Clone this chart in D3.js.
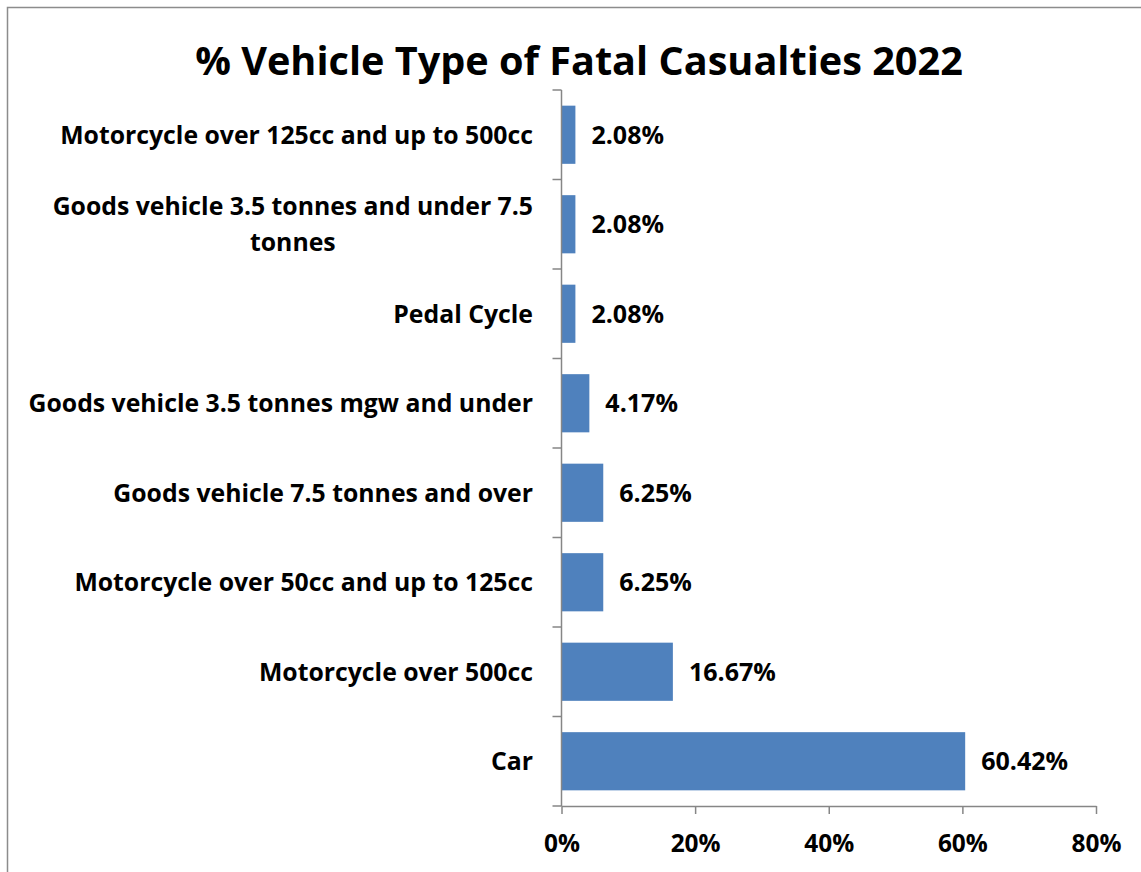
<!DOCTYPE html>
<html>
<head>
<meta charset="utf-8">
<script src="https://cdn.jsdelivr.net/npm/d3@7"></script>
<style>
  html, body { margin: 0; padding: 0; background: #fff; }
  svg { display: block; }
  text { font-family: "Open Sans", "Noto Sans", sans-serif; font-weight: 700; fill: #000; }
</style>
</head>
<body>
<svg id="chart" width="1141" height="872"></svg>
<script>
// ---- data ----
const title = "% Vehicle Type of Fatal Casualties 2022";
const categories = [
  "Motorcycle over 125cc and up to 500cc",
  "Goods vehicle 3.5 tonnes and under 7.5 tonnes",
  "Pedal Cycle",
  "Goods vehicle 3.5 tonnes mgw and under",
  "Goods vehicle 7.5 tonnes and over",
  "Motorcycle over 50cc and up to 125cc",
  "Motorcycle over 500cc",
  "Car"
];
const values = [2.08, 2.08, 2.08, 4.17, 6.25, 6.25, 16.67, 60.42];
const xTicks = [0, 20, 40, 60, 80];

// ---- setup ----
const svg = d3.select("#chart");
const W = 1141, H = 872;
const axisColor = "#868686";
const barColor = "#4F81BD";

// border
svg.append("rect")
  .attr("x", 7.5).attr("y", 7.5).attr("width", 1150).attr("height", 900)
  .attr("fill", "#fff").attr("stroke", "#8c8c8c").attr("stroke-width", 1.5);

// font fitting helper: find font-size so sample string has target width
function fitSize(sample, targetWidth) {
  const t = svg.append("text").style("font-size", "100px").text(sample);
  const w = t.node().getComputedTextLength();
  t.remove();
  return 100 * targetWidth / w;
}
const titleSize = fitSize(title, 768);
const labelSize = fitSize(categories[0], 473);
const valueSize = fitSize("60.42%", 87);
const tickSize = fitSize("80%", 50);

// scales
const x = d3.scaleLinear().domain([0, 80]).range([561.5, 1096]);
const y = d3.scaleBand().domain(categories).range([90, 806])
  .paddingInner(0.35).paddingOuter(0.175);

// title
svg.append("text")
  .attr("x", 579).attr("y", 75)
  .attr("text-anchor", "middle")
  .style("font-size", titleSize + "px")
  .text(title);

// bars
svg.append("g").selectAll("rect")
  .data(categories)
  .join("rect")
  .attr("x", x(0))
  .attr("y", d => y(d))
  .attr("width", (d, i) => x(values[i]) - x(0))
  .attr("height", y.bandwidth())
  .attr("fill", barColor);

// y axis (Excel style: ticks on category boundaries)
const yAxis = svg.append("g").attr("stroke", axisColor).attr("stroke-width", 1.5);
const [y0, y1] = y.range();
yAxis.append("line").attr("x1", x(0)).attr("x2", x(0)).attr("y1", y0).attr("y2", y1);
const bounds = d3.range(categories.length + 1).map(i => y0 + i * (y1 - y0) / categories.length);
yAxis.selectAll("line.tick").data(bounds).join("line")
  .attr("class", "tick")
  .attr("x1", x(0) - 9).attr("x2", x(0))
  .attr("y1", d => d).attr("y2", d => d);

// x axis
const xAxisG = svg.append("g")
  .attr("transform", `translate(0,${y1})`)
  .call(d3.axisBottom(x).tickValues(xTicks).tickFormat(d => d + "%").tickSize(8).tickSizeOuter(0));
xAxisG.select(".domain").attr("stroke", axisColor).attr("stroke-width", 1.5);
xAxisG.selectAll(".tick line").attr("stroke", axisColor).attr("stroke-width", 1.5);
xAxisG.selectAll(".tick text")
  .attr("y", 46).attr("dy", null)
  .attr("fill", "#000")
  .style("font-family", '"Open Sans", "Noto Sans", sans-serif')
  .style("font-weight", 700)
  .style("font-size", tickSize + "px");

// category labels (wrapped, right-aligned block, centred lines)
const capH = 0.714; // Open Sans cap height ratio
const labelRight = 533;
const maxLabelW = 530;
const lineGap = 36;
categories.forEach((cat, i) => {
  // wrap words
  const words = cat.split(" ");
  const lines = [];
  let cur = "";
  const probe = svg.append("text").style("font-size", labelSize + "px");
  words.forEach(w => {
    const test = cur ? cur + " " + w : w;
    probe.text(test);
    if (probe.node().getComputedTextLength() > maxLabelW && cur) {
      lines.push(cur); cur = w;
    } else cur = test;
  });
  lines.push(cur);
  const widths = lines.map(l => { probe.text(l); return probe.node().getComputedTextLength(); });
  probe.remove();
  const blockW = d3.max(widths);
  const cx = labelRight - blockW / 2;
  const cy = y(cat) + y.bandwidth() / 2;
  const firstBase = cy - (lines.length - 1) * lineGap / 2 + labelSize * capH / 2;
  const t = svg.append("text")
    .attr("text-anchor", lines.length > 1 ? "middle" : "end")
    .style("font-size", labelSize + "px");
  lines.forEach((l, j) => {
    t.append("tspan")
      .attr("x", lines.length > 1 ? cx : labelRight)
      .attr("y", firstBase + j * lineGap)
      .text(l);
  });
});

// value labels
svg.append("g").selectAll("text")
  .data(categories)
  .join("text")
  .attr("x", (d, i) => x(values[i]) + 16)
  .attr("y", d => y(d) + y.bandwidth() / 2 + valueSize * capH / 2)
  .style("font-size", valueSize + "px")
  .text((d, i) => values[i].toFixed(2) + "%");
</script>
</body>
</html>
